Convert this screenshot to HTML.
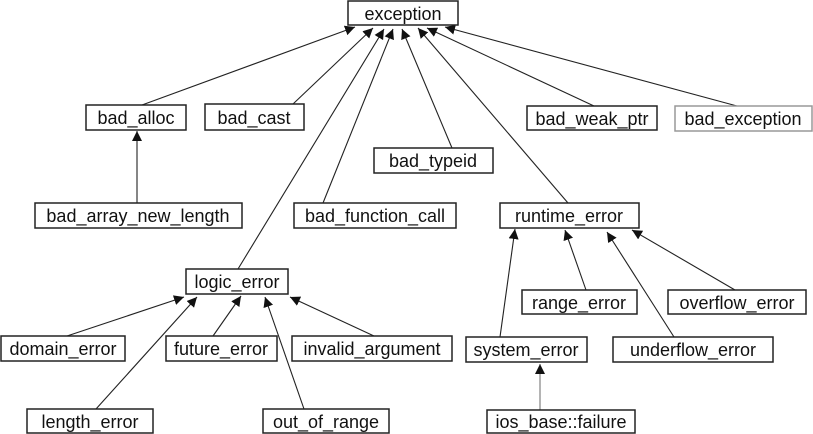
<!DOCTYPE html>
<html><head><meta charset="utf-8"><style>
html,body{margin:0;padding:0;background:#fff;width:813px;height:434px;overflow:hidden}
text{font-family:"Liberation Sans","DejaVu Sans",sans-serif;font-size:18px;fill:#111}
rect{fill:#fff;stroke:#222;stroke-width:1.5}
line{stroke:#222;stroke-width:1.1}
</style></head><body>
<svg width="813" height="434" viewBox="0 0 813 434" xmlns="http://www.w3.org/2000/svg">
<defs><marker id="a" viewBox="0 0 10 10" refX="10" refY="5" markerWidth="10" markerHeight="10" markerUnits="userSpaceOnUse" orient="auto"><path d="M0,0 L10,5 L0,10 z" fill="#111"/></marker></defs>
<g marker-end="url(#a)">
<line x1="142" y1="105" x2="355" y2="27"/>
<line x1="293" y1="104" x2="373" y2="28"/>
<line x1="238" y1="269" x2="384" y2="29"/>
<line x1="323" y1="203" x2="393" y2="29"/>
<line x1="452" y1="148" x2="402" y2="29"/>
<line x1="568" y1="203" x2="418" y2="28"/>
<line x1="594" y1="106" x2="427" y2="28"/>
<line x1="737" y1="106" x2="445" y2="27"/>
<line x1="137" y1="203" x2="137" y2="131"/>
<line x1="67" y1="336" x2="184" y2="297"/>
<line x1="96" y1="409" x2="197" y2="297"/>
<line x1="213" y1="336" x2="241" y2="296"/>
<line x1="304" y1="409" x2="265" y2="297"/>
<line x1="374" y1="336" x2="290" y2="297"/>
<line x1="500" y1="337" x2="515" y2="229"/>
<line x1="586" y1="290" x2="565" y2="230"/>
<line x1="674" y1="337" x2="607" y2="232"/>
<line x1="735" y1="290" x2="632" y2="230"/>
<line x1="540" y1="410" x2="540" y2="364" style="stroke:#777"/>
</g>
<g text-anchor="middle">
<rect x="348" y="1" width="110" height="24"/><text x="403" y="20">exception</text>
<rect x="86" y="105" width="100" height="25"/><text x="136" y="124">bad_alloc</text>
<rect x="205" y="104" width="99" height="26"/><text x="254" y="124">bad_cast</text>
<rect x="374" y="148" width="119" height="25"/><text x="433" y="167">bad_typeid</text>
<rect x="35" y="203" width="207" height="25"/><text x="138" y="222">bad_array_new_length</text>
<rect x="294" y="203" width="162" height="25"/><text x="375" y="222">bad_function_call</text>
<rect x="527" y="106" width="130" height="24"/><text x="592" y="125">bad_weak_ptr</text>
<rect x="675" y="106" width="137" height="25" style="stroke:#999"/><text x="743" y="125">bad_exception</text>
<rect x="500" y="203" width="139" height="25"/><text x="569" y="222">runtime_error</text>
<rect x="186" y="269" width="102" height="25"/><text x="237" y="288">logic_error</text>
<rect x="1" y="336" width="124" height="25"/><text x="63" y="355">domain_error</text>
<rect x="166" y="336" width="111" height="25"/><text x="221" y="355">future_error</text>
<rect x="292" y="336" width="160" height="25"/><text x="372" y="355">invalid_argument</text>
<rect x="27" y="409" width="126" height="24"/><text x="90" y="428">length_error</text>
<rect x="263" y="409" width="126" height="24"/><text x="326" y="428">out_of_range</text>
<rect x="522" y="290" width="115" height="24"/><text x="579" y="309">range_error</text>
<rect x="668" y="290" width="138" height="24"/><text x="737" y="309">overflow_error</text>
<rect x="466" y="337" width="121" height="25"/><text x="526" y="356">system_error</text>
<rect x="613" y="337" width="160" height="25"/><text x="693" y="356">underflow_error</text>
<rect x="487" y="410" width="148" height="23"/><text x="561" y="428">ios_base::failure</text>
</g>
</svg>
</body></html>
